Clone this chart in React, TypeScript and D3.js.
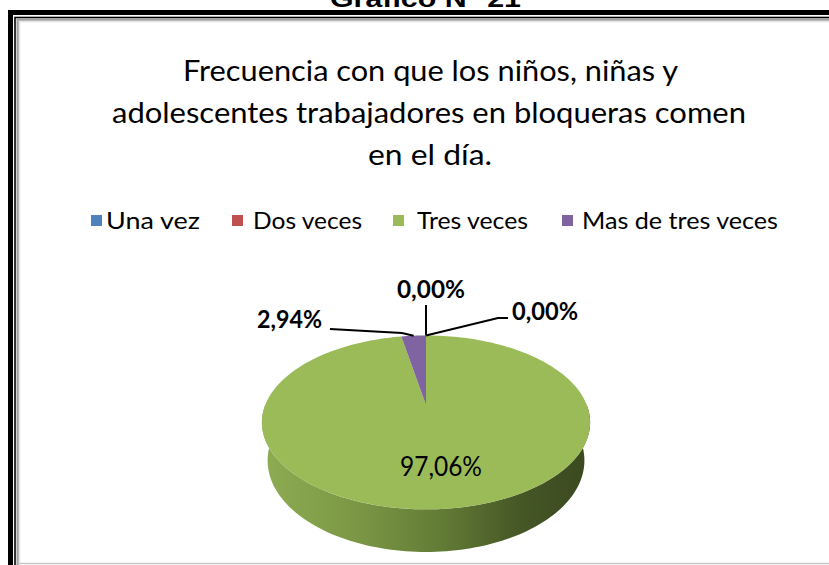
import React from "react";
import * as d3 from "d3";

const categories = ["Una vez", "Dos veces", "Tres veces", "Mas de tres veces"];
const values = [0, 0, 97.06, 2.94];
const valueLabels = ["0,00%", "0,00%", "97,06%", "2,94%"];
const colors = ["#4f81bd", "#c0504d", "#9bbb59", "#8064a2"];
const titleLines = [
  "Frecuencia con que los niños, niñas y",
  "adolescentes trabajadores  en bloqueras comen",
  "en el día.",
];
const headerText = "Gráfico N° 21";

const W = 829;
const H = 565;
const FONT = "Lato, 'Open Sans', 'DejaVu Sans', sans-serif";

// pie projection
const cx = 426;
const cy = 405;
const sinT = 0.519;
const cosT = Math.sqrt(1 - sinT * sinT);
const Dd = 5 * cosT;
const f = 160.8 * Dd;
const depthH = 0.285;

function proj(a: number, r: number, h: number): [number, number] {
  const X = r * Math.sin(a);
  const Z = r * Math.cos(a);
  const depth = Dd + Z * cosT + h * sinT;
  const v = -Z * sinT + h * cosT;
  return [cx + (f * X) / depth, cy + (f * v) / depth];
}

const titleSpans = [
  { x1: 183, x2: 678, y: 81 },
  { x1: 112, x2: 746, y: 123 },
  { x1: 368, x2: 492, y: 165 },
];

const legendPos = [
  { sq: 91, tx: 106, tw: 94 },
  { sq: 232, tx: 253, tw: 109 },
  { sq: 393, tx: 417, tw: 111 },
  { sq: 562, tx: 582, tw: 196 },
];

export default function App() {
  const pie = d3
    .pie<number>()
    .sort(null)
    .value((d) => d)
    .startAngle(0)
    .endAngle(2 * Math.PI);
  const arcs = pie(values);
  const line = d3.line<[number, number]>();

  const slicePath = (a0: number, a1: number) => {
    const n = Math.max(2, Math.ceil(((a1 - a0) / (2 * Math.PI)) * 240));
    const pts: [number, number][] = [proj(0, 0, 0)];
    d3.range(n + 1).forEach((i) => pts.push(proj(a0 + ((a1 - a0) * i) / n, 1, 0)));
    return line(pts) + "Z";
  };

  // side wall (front half)
  const sideA0 = Math.PI / 2;
  const sideA1 = (3 * Math.PI) / 2;
  const sidePts: [number, number][] = [];
  d3.range(121).forEach((i) => sidePts.push(proj(sideA0 + ((sideA1 - sideA0) * i) / 120, 1, 0)));
  d3.range(121).forEach((i) => sidePts.push(proj(sideA1 - ((sideA1 - sideA0) * i) / 120, 1, depthH)));
  const sidePath = line(sidePts) + "Z";

  const mid = (i: number) => (arcs[i].startAngle + arcs[i].endAngle) / 2;
  const aPurple = proj(mid(3), 1, 0);
  const aTop = proj(mid(0), 1, 0);
  const aRight = proj(mid(1), 1, 0);

  return (
    <svg
      width={W}
      height={H}
      style={{ position: "absolute", left: 0, top: 0, background: "#fff" }}
      fontFamily={FONT}
    >
      <defs>
        <linearGradient id="side" gradientUnits="userSpaceOnUse" x1={262} x2={590} y1={0} y2={0}>
          <stop offset="0" stopColor="#8eac52" />
          <stop offset="0.3" stopColor="#7a9645" />
          <stop offset="0.55" stopColor="#627b35" />
          <stop offset="0.78" stopColor="#465826" />
          <stop offset="1" stopColor="#3b4820" />
        </linearGradient>
      </defs>
      <rect x={0} y={0} width={W} height={H} fill="#fff" />
      {/* header text, mostly cut off */}
      <text
        x={330}
        y={7}
        fontFamily="'Liberation Sans', Arial, sans-serif"
        fontWeight="bold"
        fontSize={24}
        textLength={191}
        lengthAdjust="spacingAndGlyphs"
        fill="#000"
      >
        {headerText}
      </text>
      {/* frame */}
      <rect x={10.5} y={12.5} width={900} height={700} fill="none" stroke="#000" strokeWidth={5} />
      <rect x={15} y={17.5} width={900} height={700} fill="none" stroke="#000" strokeWidth={1.6} />
      <rect x={17.2} y={19.2} width={900} height={700} fill="none" stroke="#8a8a8a" strokeWidth={1.2} />
      <rect x={18.6} y={20.6} width={900} height={700} fill="none" stroke="#b8b8b8" strokeWidth={1.2} />
      <rect x={19.8} y={21.8} width={900} height={700} fill="none" stroke="#e0e0e0" strokeWidth={1} />
      <line x1={18} x2={W} y1={563.5} y2={563.5} stroke="#c8c8c8" strokeWidth={1.5} />

      {/* title */}
      {titleLines.map((t, i) => (
        <text
          key={i}
          x={titleSpans[i].x1}
          y={titleSpans[i].y}
          fontSize={29}
          textLength={titleSpans[i].x2 - titleSpans[i].x1}
          lengthAdjust="spacingAndGlyphs"
          fill="#000"
        >
          {t}
        </text>
      ))}

      {/* legend */}
      {categories.map((c, i) => (
        <g key={c}>
          <rect x={legendPos[i].sq} y={215} width={11} height={11} fill={colors[i]} />
          <text
            x={legendPos[i].tx}
            y={229}
            fontSize={23}
            textLength={legendPos[i].tw}
            lengthAdjust="spacingAndGlyphs"
            fill="#000"
          >
            {c}
          </text>
        </g>
      ))}

      {/* pie */}
      <path d={sidePath} fill="url(#side)" />
      {arcs.map((a, i) =>
        a.endAngle - a.startAngle > 0 ? (
          <path key={i} d={slicePath(a.startAngle, a.endAngle)} fill={colors[i]} />
        ) : null
      )}

      {/* leader lines */}
      <polyline
        points={[aPurple, [402, 333], [330, 329]].map((p) => p.join(",")).join(" ")}
        fill="none"
        stroke="#000"
        strokeWidth={2}
      />
      <polyline
        points={[aTop, [aTop[0], 305]].map((p) => p.join(",")).join(" ")}
        fill="none"
        stroke="#000"
        strokeWidth={2}
      />
      <polyline
        points={[aRight, [498, 318], [508, 318]].map((p) => p.join(",")).join(" ")}
        fill="none"
        stroke="#000"
        strokeWidth={2}
      />

      {/* data labels */}
      <text x={257} y={328} fontSize={25} fontWeight="bold" textLength={65} lengthAdjust="spacingAndGlyphs">
        {valueLabels[3]}
      </text>
      <text x={397} y={298} fontSize={25} fontWeight="bold" textLength={68} lengthAdjust="spacingAndGlyphs">
        {valueLabels[0]}
      </text>
      <text x={512} y={320} fontSize={25} fontWeight="bold" textLength={66} lengthAdjust="spacingAndGlyphs">
        {valueLabels[1]}
      </text>
      <text x={400} y={476} fontSize={26} textLength={82} lengthAdjust="spacingAndGlyphs">
        {valueLabels[2]}
      </text>
    </svg>
  );
}
